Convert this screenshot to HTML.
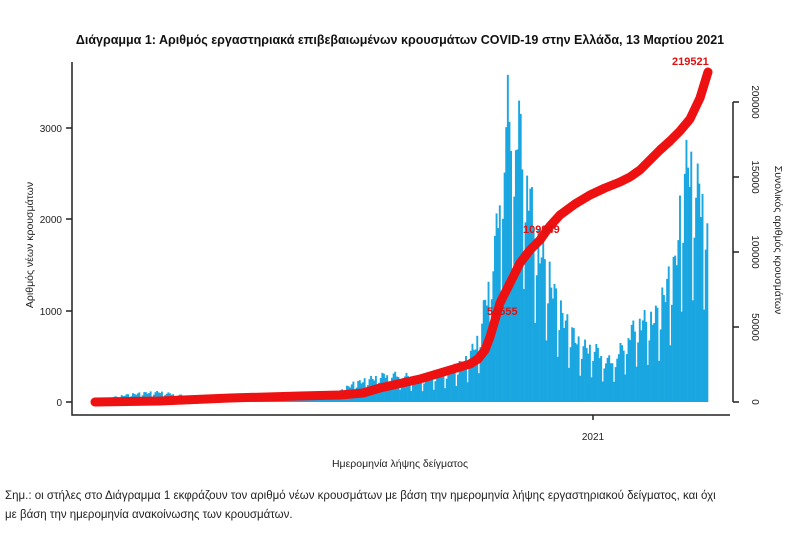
<!DOCTYPE html>
<html><head><meta charset="utf-8">
<style>
body{margin:0;background:#fff;width:800px;height:528px;overflow:hidden;font-family:"Liberation Sans","DejaVu Sans",sans-serif}
</style></head><body>
<svg id="s" width="800" height="528" xmlns="http://www.w3.org/2000/svg" font-family="Liberation Sans, DejaVu Sans, sans-serif">
<text x="400" y="44" text-anchor="middle" font-size="12.5" font-weight="bold" fill="#111">Διάγραμμα 1: Αριθμός εργαστηριακά επιβεβαιωμένων κρουσμάτων COVID-19 στην Ελλάδα, 13 Μαρτίου 2021</text>
<g id="bars" fill="#1aa6e0"></g>
<g stroke="#222" stroke-width="1.5" fill="none">
<path d="M72 62 V415 H730"/>
<path d="M66 402H72 M66 311H72 M66 219H72 M66 128H72"/>
<path d="M733 102V402 M733 102h6 M733 177h6 M733 252h6 M733 327h6 M733 402h6"/>
<path d="M593 415v5"/>
</g>
<g font-size="10" fill="#222" text-anchor="end">
<text x="62" y="406">0</text><text x="62" y="315">1000</text><text x="62" y="223">2000</text><text x="62" y="132">3000</text>
</g>
<g font-size="10" fill="#222" text-anchor="middle">
<text transform="translate(752,402) rotate(90)">0</text>
<text transform="translate(752,327) rotate(90)">50000</text>
<text transform="translate(752,252) rotate(90)">100000</text>
<text transform="translate(752,177) rotate(90)">150000</text>
<text transform="translate(752,102) rotate(90)">200000</text>
<text x="593" y="440">2021</text>
<text x="400" y="467" font-size="10.5">Ημερομηνία λήψης δείγματος</text>
</g>
<text transform="translate(33,245) rotate(-90)" font-size="10.5" fill="#222" text-anchor="middle">Αριθμός νέων κρουσμάτων</text>
<text transform="translate(775,240) rotate(90)" font-size="10.5" fill="#222" text-anchor="middle">Συνολικός αριθμός κρουσμάτων</text>
<path id="line" fill="none" stroke="#ee1111" stroke-width="9" stroke-linecap="round" stroke-linejoin="round"/>
<g font-size="11" font-weight="bold" fill="#dd1111">
<text x="672" y="65">219521</text>
<text x="487" y="315">55555</text>
<text x="523" y="233">109949</text>
</g>
<text x="5" y="499" font-size="11.5" fill="#222">Σημ.: οι στήλες στο Διάγραμμα 1 εκφράζουν τον αριθμό νέων κρουσμάτων με βάση την ημερομηνία λήψης εργαστηριακού δείγματος, και όχι</text>
<text x="5" y="518" font-size="11.5" fill="#222">με βάση την ημερομηνία ανακοίνωσης των κρουσμάτων.</text>
</svg>
<script>
var kp=[[0,20],[10,50],[20,80],[30,100],[40,110],[50,80],[60,60],[100,55],[130,60],[150,100],[160,200],[170,250],[180,300],[190,300],[200,250],[210,300],[220,350],[230,450],[238,700],[243,1200],[248,1700],[252,2500],[256,3200],[260,3000],[264,3000],[268,2500],[272,2000],[276,1700],[280,1500],[285,1200],[290,950],[295,800],[300,650],[305,600],[310,600],[315,500],[320,450],[325,550],[330,700],[335,850],[340,900],[345,900],[350,1000],[355,1300],[360,1500],[364,2200],[368,2700],[372,2400],[376,2300],[380,2200]];
function env(d){for(var i=1;i<kp.length;i++){if(d<=kp[i][0]){var a=kp[i-1],b=kp[i];return a[1]+(b[1]-a[1])*(d-a[0])/(b[0]-a[0]);}}return 2200;}
var N=381,x0=95,w=613/N,h="";
for(var d=0;d<N;d++){var v=env(d);var wd=d%7;if(wd==0)v*=0.45;else if(wd==1)v*=0.75;else v*=1+0.12*Math.sin(d*1.7);
var bh=v*0.0913;h+='<rect x="'+(x0+d*w).toFixed(2)+'" y="'+(402-bh).toFixed(1)+'" width="'+(w+0.3).toFixed(2)+'" height="'+bh.toFixed(1)+'"/>';}
document.getElementById('bars').innerHTML=h;
var pts=[[95,402],[160,401],[230,398],[300,396],[340,395],[363,393],[380,388],[420,379],[450,370],[470,364],[478,359],[485,350],[490,337],[495,320],[500,303],[510,283],[520,263],[530,250],[540,240],[550,226],[560,215],[575,204],[590,195],[605,188],[620,182],[630,177],[640,170],[650,160],[660,150],[670,141],[680,131],[690,119],[700,98],[708,72]];
var p="";pts.forEach(function(q,i){p+=(i?'L':'M')+q[0]+' '+q[1];});
document.getElementById('line').setAttribute('d',p);
</script>
</body></html>
